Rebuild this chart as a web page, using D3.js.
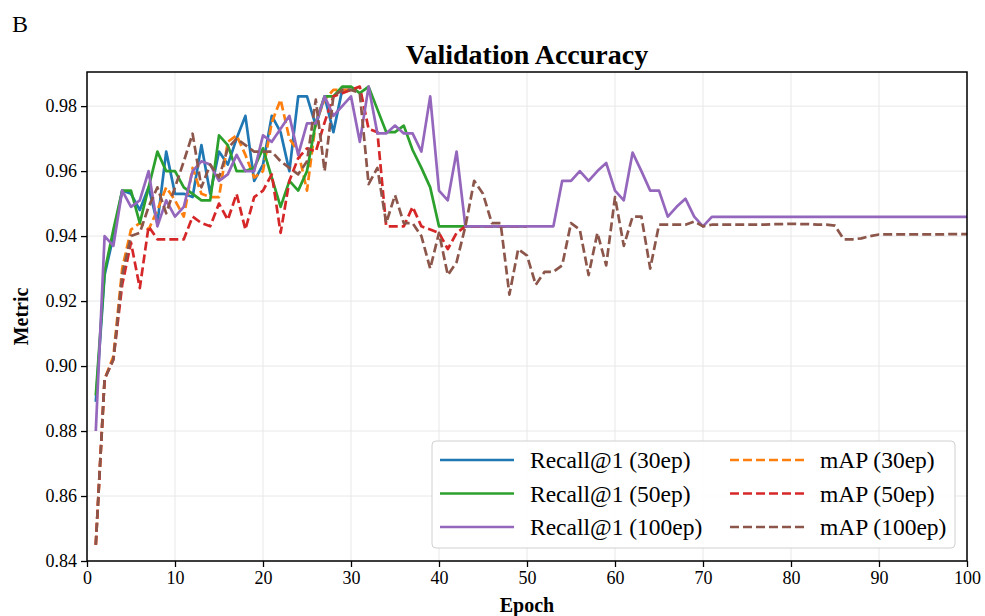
<!DOCTYPE html>
<meta charset="utf-8"/>
<html>
  <head>
    <script src="https://d3js.org/d3.v7.min.js"></script>
    <style>
      body { margin: 0; background: white; }
      text { font-family: 'Liberation Serif', 'Times New Roman', serif; }
    </style>
  </head>
  <body>
<script type="text/javascript">
// values, epoch 1..n
var recall30 = [0.889, 0.928, 0.940, 0.954, 0.953, 0.948, 0.955, 0.944, 0.966, 0.953,
                0.953, 0.952, 0.968, 0.953, 0.966, 0.962, 0.970, 0.977, 0.957, 0.962,
                0.977, 0.972, 0.960, 0.983, 0.983, 0.974, 0.983, 0.972, 0.985, 0.985];
var map30 = [0.845, 0.896, 0.903, 0.930, 0.942, 0.944, 0.942, 0.948, 0.955, 0.951,
             0.946, 0.961, 0.953, 0.952, 0.952, 0.969, 0.971, 0.965, 0.958, 0.960,
             0.975, 0.982, 0.970, 0.966, 0.954, 0.975, 0.982, 0.985, 0.985, 0.985];
var recall50 = [0.891, 0.929, 0.942, 0.954, 0.954, 0.944, 0.955, 0.966, 0.960, 0.960,
                0.955, 0.953, 0.951, 0.951, 0.971, 0.968, 0.960, 0.960, 0.961, 0.967,
                0.958, 0.949, 0.957, 0.954, 0.960, 0.975, 0.983, 0.983, 0.986, 0.986,
                0.984, 0.986, 0.979, 0.972, 0.972, 0.974, 0.9665, 0.961, 0.955, 0.943,
                0.943, 0.943, 0.943, 0.943, 0.943, 0.943, 0.943, 0.943, 0.943, 0.943];
var map50 = [0.845, 0.896, 0.902, 0.925, 0.938, 0.924, 0.943, 0.939, 0.939, 0.939,
             0.939, 0.946, 0.944, 0.943, 0.950, 0.945, 0.953, 0.942, 0.952, 0.954,
             0.959, 0.941, 0.957, 0.964, 0.967, 0.966, 0.975, 0.983, 0.984, 0.985,
             0.986, 0.973, 0.972, 0.943, 0.943, 0.943, 0.949, 0.943, 0.942, 0.941,
             0.936, 0.941, 0.943, 0.943, 0.943, 0.943, 0.943, 0.943, 0.943, 0.943];
var recall100 = [0.880, 0.940, 0.937, 0.954, 0.949, 0.951, 0.960, 0.943, 0.951, 0.946,
                 0.949, 0.960, 0.963, 0.962, 0.957, 0.959, 0.965, 0.960, 0.960, 0.971,
                 0.969, 0.973, 0.977, 0.965, 0.9747, 0.9747, 0.983, 0.977, 0.980, 0.983,
                 0.969, 0.986, 0.9716, 0.9716, 0.974, 0.9716, 0.9716, 0.966, 0.983, 0.954,
                 0.951, 0.966, 0.943, 0.943, 0.943, 0.943, 0.943, 0.943, 0.943, 0.943,
                 0.943, 0.943, 0.943, 0.957, 0.957, 0.960, 0.957, 0.960, 0.9625, 0.954,
                 0.951, 0.9657, 0.960, 0.954, 0.954, 0.946, 0.949, 0.9515, 0.946, 0.943,
                 0.9459, 0.9459, 0.9459, 0.9459, 0.9459, 0.9459, 0.9459, 0.9459, 0.9459, 0.9459,
                 0.9459, 0.9459, 0.9459, 0.9459, 0.9459, 0.9459, 0.9459, 0.9459, 0.9459, 0.9459,
                 0.9459, 0.9459, 0.9459, 0.9459, 0.9459, 0.9459, 0.9459, 0.9459, 0.9459, 0.9459];
var map100 = [0.845, 0.896, 0.902, 0.928, 0.940, 0.941, 0.949, 0.955, 0.947, 0.955,
              0.963, 0.9715, 0.955, 0.962, 0.958, 0.967, 0.970, 0.968, 0.966, 0.966,
              0.966, 0.963, 0.961, 0.959, 0.963, 0.982, 0.960, 0.983, 0.985, 0.985,
              0.984, 0.956, 0.961, 0.944, 0.9526, 0.944, 0.944, 0.940, 0.930, 0.941,
              0.928, 0.932, 0.943, 0.957, 0.953, 0.944, 0.944, 0.922, 0.936, 0.934,
              0.925, 0.929, 0.929, 0.931, 0.944, 0.942, 0.928, 0.941, 0.931, 0.952,
              0.937, 0.946, 0.946, 0.930, 0.9435, 0.9435, 0.9435, 0.9435, 0.9445, 0.943,
              0.9435, 0.9435, 0.9435, 0.9435, 0.9435, 0.9435, 0.9435, 0.9437, 0.9437, 0.9438,
              0.9437, 0.9437, 0.9435, 0.9435, 0.9432, 0.939, 0.939, 0.9393, 0.940, 0.9405,
              0.9405, 0.9405, 0.9405, 0.9405, 0.9405, 0.9405, 0.9405, 0.9406, 0.9406, 0.9406];

var xTicks = [0, 10, 20, 30, 40, 50, 60, 70, 80, 90, 100];
var yTicks = [0.84, 0.86, 0.88, 0.90, 0.92, 0.94, 0.96, 0.98];

var series = [
  {name: 'Recall@1 (30ep)', values: recall30, color: '#1f77b4', dashed: false},
  {name: 'Recall@1 (50ep)', values: recall50, color: '#2ca02c', dashed: false},
  {name: 'Recall@1 (100ep)', values: recall100, color: '#9467bd', dashed: false},
  {name: 'mAP (30ep)', values: map30, color: '#ff7f0e', dashed: true},
  {name: 'mAP (50ep)', values: map50, color: '#d62728', dashed: true},
  {name: 'mAP (100ep)', values: map100, color: '#8c564b', dashed: true}
];
// draw order as in the picture: each run's recall then its mAP
var drawOrder = [0, 3, 1, 4, 2, 5];

var width = 985, height = 616;
var margin = {top: 72, right: 18, bottom: 55, left: 87};

var svg = d3.select('body').append('svg')
    .attr('width', width)
    .attr('height', height);

var x = d3.scaleLinear().domain([0, 100]).range([margin.left, width - margin.right]);
var y = d3.scaleLinear().domain([0.84, 0.9905]).range([height - margin.bottom, margin.top]);

// grid
svg.append('g')
    .selectAll('line')
    .data(xTicks)
    .enter().append('line')
    .attr('x1', function(d) { return x(d); })
    .attr('x2', function(d) { return x(d); })
    .attr('y1', margin.top)
    .attr('y2', height - margin.bottom)
    .attr('stroke', '#e8e8e8')
    .attr('stroke-width', 1);
svg.append('g')
    .selectAll('line')
    .data(yTicks)
    .enter().append('line')
    .attr('x1', margin.left)
    .attr('x2', width - margin.right)
    .attr('y1', function(d) { return y(d); })
    .attr('y2', function(d) { return y(d); })
    .attr('stroke', '#e8e8e8')
    .attr('stroke-width', 1);

var line = d3.line()
    .x(function(d, i) { return x(i + 1); })
    .y(function(d) { return y(d); });

var plot = svg.append('g');
drawOrder.forEach(function(k) {
  var s = series[k];
  plot.append('path')
      .attr('d', line(s.values))
      .attr('fill', 'none')
      .attr('stroke', s.color)
      .attr('stroke-width', 2.7)
      .attr('stroke-linejoin', 'round')
      .attr('stroke-dasharray', s.dashed ? '9,4' : null);
});

// axes
var xAxis = svg.append('g')
    .attr('transform', 'translate(0,' + (height - margin.bottom) + ')')
    .call(d3.axisBottom(x).tickValues(xTicks).tickSize(6).tickPadding(4).tickFormat(d3.format('d')));
var yAxis = svg.append('g')
    .attr('transform', 'translate(' + margin.left + ',0)')
    .call(d3.axisLeft(y).tickValues(yTicks).tickSize(6).tickPadding(4).tickFormat(d3.format('.2f')));
[xAxis, yAxis].forEach(function(a) {
  a.select('.domain').remove();
  a.selectAll('.tick line').attr('stroke', '#000').attr('stroke-width', 1.3);
  a.selectAll('.tick text')
      .attr('fill', '#000')
      .style('font-family', "'Liberation Serif', serif")
      .style('font-size', '18px');
});

// frame
svg.append('rect')
    .attr('x', margin.left)
    .attr('y', margin.top)
    .attr('width', width - margin.left - margin.right)
    .attr('height', height - margin.top - margin.bottom)
    .attr('fill', 'none')
    .attr('stroke', '#000')
    .attr('stroke-width', 1.5);

// legend
var legend = svg.append('g');
legend.append('rect')
    .attr('x', 432)
    .attr('y', 441)
    .attr('width', 523)
    .attr('height', 107)
    .attr('rx', 4)
    .attr('fill', 'white')
    .attr('fill-opacity', 0.85)
    .attr('stroke', '#d0d0d0')
    .attr('stroke-width', 1);
series.forEach(function(s, i) {
  var col = Math.floor(i / 3), row = i % 3;
  var lx = col === 0 ? 440 : 730;
  var ly = 460 + row * 33.5;
  legend.append('line')
      .attr('x1', lx)
      .attr('x2', lx + 74)
      .attr('y1', ly)
      .attr('y2', ly)
      .attr('stroke', s.color)
      .attr('stroke-width', 2.7)
      .attr('stroke-dasharray', s.dashed ? '9,4' : null);
  legend.append('text')
      .attr('x', lx + 90)
      .attr('y', ly + 8)
      .style('font-size', '23.5px')
      .text(s.name);
});

// titles
svg.append('text')
    .attr('x', (margin.left + width - margin.right) / 2)
    .attr('y', 64)
    .attr('text-anchor', 'middle')
    .style('font-size', '28px')
    .style('font-weight', 'bold')
    .text('Validation Accuracy');
svg.append('text')
    .attr('x', 12)
    .attr('y', 32)
    .style('font-size', '24px')
    .text('B');
svg.append('text')
    .attr('x', (margin.left + width - margin.right) / 2)
    .attr('y', 612)
    .attr('text-anchor', 'middle')
    .style('font-size', '20px')
    .style('font-weight', 'bold')
    .text('Epoch');
svg.append('text')
    .attr('transform', 'translate(28,' + ((margin.top + height - margin.bottom) / 2) + ') rotate(-90)')
    .attr('text-anchor', 'middle')
    .style('font-size', '20px')
    .style('font-weight', 'bold')
    .text('Metric');
</script>
  </body>
</html>
